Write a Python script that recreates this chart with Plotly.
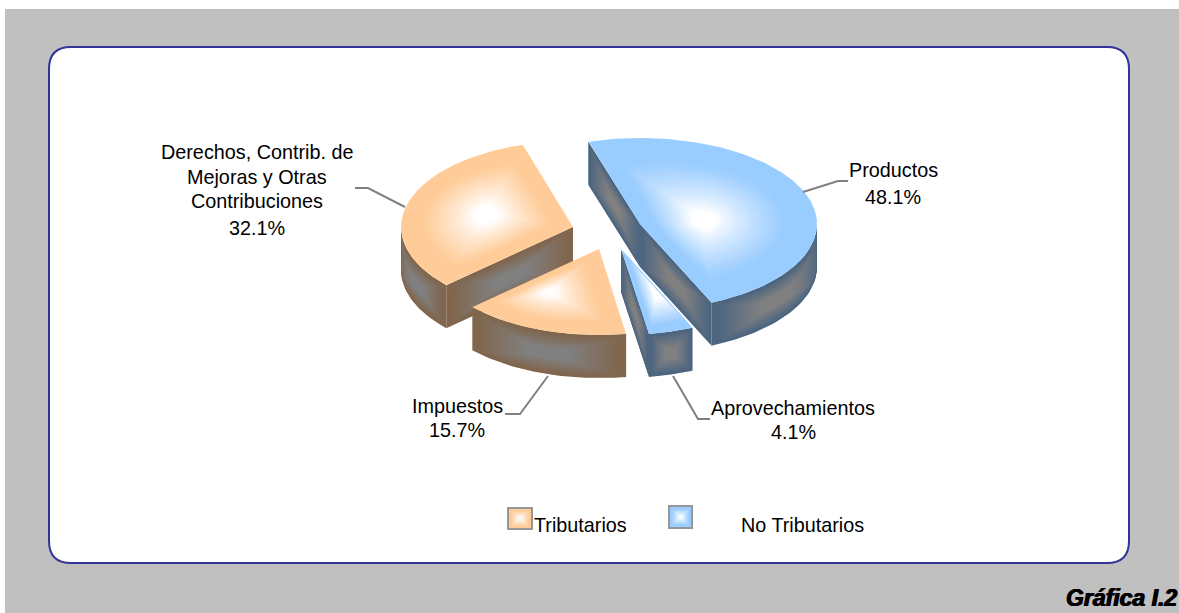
import numpy as np
import plotly.graph_objects as go

# ---- data ----
categories = ["Productos", "Aprovechamientos", "Impuestos", "Derechos, Contrib. de Mejoras y Otras Contribuciones"]
values = [48.1, 4.1, 15.7, 32.1]
groups = ["No Tributarios", "No Tributarios", "Tributarios", "Tributarios"]
legend_names = ["Tributarios", "No Tributarios"]

# ---- projection of the exploded 3-D pie ----
START = -17.0
CENTRES = [(640, 224), (621, 249), (599, 249), (573, 227)]
RX = [177, 177, 172, 172]
RY = 86
DEPTH = 43
DRAW_ORDER = [3, 0, 2, 1]
LEVELS = 30
STYLE = {
    "Tributarios": dict(edge=(255, 204, 153), wall=(128, 102, 77)),
    "No Tributarios": dict(edge=(153, 204, 255), wall=(77, 102, 128)),
}
WHITE = (255, 255, 255)
GRAY = (128, 128, 128)


def mix(a, b, f):
    f = min(max(f, 0), 1)
    return "rgb(%d,%d,%d)" % tuple(round(a[i] + (b[i] - a[i]) * f) for i in range(3))


def poly(fig, xs, ys, col):
    fig.add_trace(go.Scatter(x=list(xs), y=list(ys), mode="lines", fill="toself", fillcolor=col,
                             line=dict(width=0, color=col), hoverinfo="skip", showlegend=False))


def rim(c, rx, t0, t1, n=60):
    t = np.radians(np.linspace(t0, t1, n))
    return c[0] + rx * np.sin(t), c[1] - RY * np.cos(t)


def top_face(fig, c, rx, t0, t1, style):
    ax, ay = rim(c, rx, t0, t1)
    x = np.r_[c[0], ax, c[0]]
    y = np.r_[c[1], ay, c[1]]
    # even sampling round the outline, so the inner rings of wide slices can round off
    d = np.r_[0, np.cumsum(np.hypot(np.diff(x), np.diff(y)))]
    q = np.linspace(0, d[-1], 300)
    x, y = np.interp(q, d, x), np.interp(q, d, y)
    fx, fy = (x.min() + x.max()) / 2, (y.min() + y.max()) / 2
    hw, hh = (x.max() - x.min()) / 2, (y.max() - y.min()) / 2
    ux, uy = (x - fx) / hw, (y - fy) / hh
    rho = np.maximum(np.hypot(ux, uy), 1e-6)
    rm = rho.min()
    rounding = 0.9 if (t1 - t0) > 30 else 0.0
    for i in range(LEVELS):
        s = 1 - i / LEVELS
        w = (1 - s) * rounding
        px = ((1 - w) * ux + w * ux / rho * rm) * hw * s + fx
        py = ((1 - w) * uy + w * uy / rho * rm) * hh * s + fy
        poly(fig, px, py, mix(WHITE, style["edge"], s * 1.6 - 0.3))


def wall(fig, px, py, style):
    px, py = np.asarray(px, float), np.asarray(py, float)
    u0 = np.r_[0, np.cumsum(np.hypot(np.diff(px), np.diff(py)))]
    u0 = u0 / u0[-1]
    for i in range(LEVELS):
        k = 0.5 * i / LEVELS
        u = np.linspace(k, 1 - k, 40)
        tx, ty = np.interp(u, u0, px), np.interp(u, u0, py)
        xs = np.r_[tx, tx[::-1]]
        ys = np.r_[ty + DEPTH * k, ty[::-1] + DEPTH * (1 - k)]
        poly(fig, xs, ys, mix(GRAY, style["wall"], (1 - 2 * k) * 1.5 - 0.4))


fig = go.Figure()

# page background and framed panel
shapes = [
    dict(type="rect", x0=5, y0=9, x1=1179, y1=613, fillcolor="#C0C0C0", line_width=0, layer="below"),
    dict(type="path", layer="below", fillcolor="#FFFFFF", line=dict(color="#333399", width=2),
         path="M 71 47 L 1107 47 Q 1129 47 1129 69 L 1129 541 Q 1129 563 1107 563 "
              "L 71 563 Q 49 563 49 541 L 49 69 Q 49 47 71 47 Z"),
]

# slices, angles come from the values
angles = []
a = START
for v in values:
    angles.append((a, a + v / sum(values) * 360))
    a = angles[-1][1]

for idx in DRAW_ORDER:
    t0, t1 = angles[idx]
    c, rx = CENTRES[idx], RX[idx]
    st = STYLE[groups[idx]]
    # radial walls that face the viewer
    if idx == 0:
        p = rim(c, rx, t0, t0, 1)
        wall(fig, [p[0][0], c[0]], [p[1][0], c[1]], st)
        p = rim(c, rx, t1, t1, 1)
        wall(fig, [c[0], p[0][0]], [c[1], p[1][0]], st)
        ox, oy = rim(c, rx, 90, t1)
        wall(fig, ox, oy, st)
    elif idx == 1:
        p = rim(c, rx, t1, t1, 1)
        wall(fig, [c[0], p[0][0]], [c[1], p[1][0]], st)
        ox, oy = rim(c, rx, t0, t1)
        wall(fig, ox, oy, st)
    elif idx == 2:
        ox, oy = rim(c, rx, t0, t1)
        wall(fig, ox, oy, st)
    else:
        ox, oy = rim(c, rx, t0, 270)
        wall(fig, ox, oy, st)
        p = rim(c, rx, t0, t0, 1)
        wall(fig, [p[0][0], c[0]], [p[1][0], c[1]], st)
    top_face(fig, c, rx, t0, t1, st)

# leader lines
LEADERS = [
    ([803, 838, 848], [192, 181, 181]),
    ([673, 698, 710], [376, 419, 419]),
    ([505, 520, 548], [414, 414, 376]),
    ([355, 368, 405], [188, 188, 207]),
]
for lx, ly in LEADERS:
    fig.add_trace(go.Scatter(x=lx, y=ly, mode="lines", line=dict(color="#808080", width=2),
                             hoverinfo="skip", showlegend=False))

# legend swatches
SWATCHES = [(507, 507, 533, 530), (668, 505, 693, 529)]
for name, (x0, y0, x1, y1) in zip(legend_names, SWATCHES):
    st = STYLE[name]
    mx, my = (x0 + x1) / 2, (y0 + y1) / 2
    shapes.append(dict(type="rect", x0=x0, y0=y0, x1=x1, y1=y1, fillcolor="#969696", line_width=0, layer="below"))
    for i in range(10):
        s = 1 - i / 10
        hx, hy = ((x1 - x0) / 2 - 2) * s, ((y1 - y0) / 2 - 2) * s
        poly(fig, [mx - hx, mx + hx, mx + hx, mx - hx], [my - hy, my - hy, my + hy, my + hy],
             mix(WHITE, st["edge"], s * 1.3 - 0.1))

# texts
share = ["%.1f%%" % v for v in values]
LABELS = [
    (["Productos", share[0]], 893, [170, 197]),
    (["Aprovechamientos", share[1]], 793, [408, 432]),
    (["Impuestos", share[2]], 457, [406, 430]),
    (["Derechos, Contrib. de", "Mejoras y Otras", "Contribuciones", share[3]], 257, [152, 177, 201, 228]),
]
ann = []
FONT = dict(family="Liberation Sans, Arial", size=19.8, color="#000000")
for lines, x, ys in LABELS:
    for line, y in zip(lines, ys):
        ann.append(dict(x=x, y=y, text=line, showarrow=False, xanchor="center", yanchor="middle", font=FONT))
ann.append(dict(x=580, y=525, text=legend_names[0], showarrow=False, xanchor="center", yanchor="middle", font=FONT))
ann.append(dict(x=802, y=525, text=legend_names[1], showarrow=False, xanchor="center", yanchor="middle", font=FONT))
ann.append(dict(x=1179, y=598, text="<b><i>Gráfica I.2</i></b>", showarrow=False, xanchor="right", yanchor="middle",
                font=dict(family="Liberation Sans, Arial", size=23, color="#000000",
                          shadow="0.6px 0 0 #000, -0.6px 0 0 #000")))

fig.update_layout(
    width=1179, height=613, margin=dict(l=0, r=0, t=0, b=0),
    paper_bgcolor="#FFFFFF", plot_bgcolor="rgba(0,0,0,0)", showlegend=False,
    shapes=shapes, annotations=ann, hovermode=False,
    xaxis=dict(range=[0, 1179], visible=False, fixedrange=True),
    yaxis=dict(range=[613, 0], visible=False, fixedrange=True),
)
fig.write_html("out.html", config={"displayModeBar": False},
               post_script="document.body.style.margin='0';document.body.style.overflow='hidden';")
